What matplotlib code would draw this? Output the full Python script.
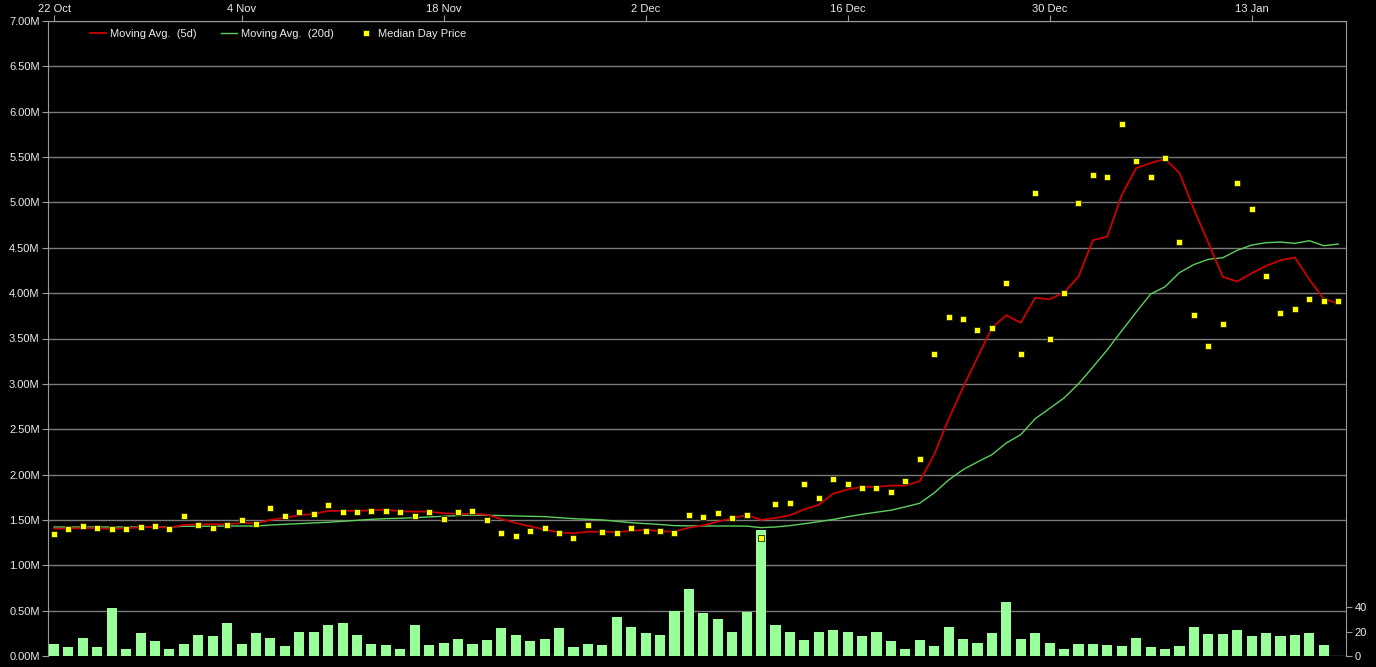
import numpy as np
import pandas as pd
import matplotlib
matplotlib.use("Agg")
import matplotlib.pyplot as plt
from matplotlib.lines import Line2D
from matplotlib.ticker import FuncFormatter, MultipleLocator
import matplotlib.dates as mdates

plt.rcParams['font.family'] = ['Liberation Sans', 'DejaVu Sans']

# ---- data (prices in millions, one value per day) ----
start_date = "2013-10-22"
n_days = 90

median_price = [
    1.345, 1.40, 1.433, 1.411, 1.40, 1.40, 1.422, 1.433, 1.40, 1.544,
    1.444, 1.411, 1.444, 1.50, 1.455, 1.632, 1.544, 1.588, 1.566, 1.665,
    1.588, 1.588, 1.599, 1.599, 1.588, 1.544, 1.588, 1.51, 1.588, 1.60,
    1.50, 1.356, 1.323, 1.378, 1.412, 1.356, 1.301, 1.445, 1.367, 1.356,
    1.412, 1.378, 1.38, 1.356, 1.557, 1.533, 1.577, 1.522, 1.555, 1.30,
    1.677, 1.688, 1.898, 1.743, 1.953, 1.898, 1.85, 1.85, 1.81, 1.931,
    2.174, 3.324, 3.74, 3.718, 3.597, 3.619, 4.114, 3.324, 5.105, 3.497,
    4.007, 4.998, 5.306, 5.284, 5.868, 5.46, 5.284, 5.493, 4.568, 3.764,
    3.412, 3.665, 5.218, 4.932, 4.194, 3.786, 3.83, 3.94, 3.918, 3.918,
]

ma_5d = [
    1.404, 1.404, 1.41, 1.408, 1.40, 1.408, 1.418, 1.422, 1.415, 1.445,
    1.452, 1.452, 1.452, 1.467, 1.463, 1.50, 1.525, 1.551, 1.566, 1.60,
    1.60, 1.60, 1.606, 1.614, 1.595, 1.592, 1.592, 1.573, 1.568, 1.566,
    1.558, 1.51, 1.467, 1.43, 1.393, 1.363, 1.352, 1.37, 1.37, 1.367,
    1.378, 1.393, 1.374, 1.372, 1.415, 1.44, 1.481, 1.518, 1.555, 1.50,
    1.522, 1.551, 1.617, 1.666, 1.79, 1.835, 1.865, 1.865, 1.879, 1.879,
    1.927, 2.22, 2.61, 2.96, 3.29, 3.617, 3.757, 3.673, 3.948, 3.932,
    4.008, 4.18, 4.583, 4.623, 5.082, 5.379, 5.434, 5.48, 5.325, 4.924,
    4.557, 4.18, 4.128, 4.22, 4.30, 4.363, 4.393, 4.15, 3.94, 3.885,
]

ma_20d = [
    1.422, 1.422, 1.422, 1.422, 1.422, 1.422, 1.422, 1.422, 1.422, 1.43,
    1.43, 1.43, 1.433, 1.433, 1.433, 1.444, 1.452, 1.459, 1.467, 1.474,
    1.485, 1.496, 1.507, 1.514, 1.518, 1.525, 1.533, 1.54, 1.548, 1.553,
    1.551, 1.548, 1.544, 1.54, 1.536, 1.525, 1.514, 1.507, 1.50, 1.485,
    1.47, 1.459, 1.45, 1.437, 1.435, 1.433, 1.433, 1.433, 1.432, 1.415,
    1.422, 1.437, 1.458, 1.481, 1.505, 1.535, 1.562, 1.585, 1.607, 1.644,
    1.684, 1.798, 1.94, 2.054, 2.139, 2.219, 2.348, 2.44, 2.616, 2.729,
    2.844, 3.0, 3.185, 3.376, 3.585, 3.79, 3.99, 4.07, 4.226, 4.315,
    4.373, 4.39, 4.472, 4.53, 4.556, 4.563, 4.549, 4.578, 4.523, 4.541,
]

volume = [
    10, 7, 15, 7, 39, 6, 19, 12, 6, 10,
    17, 16, 27, 10, 19, 15, 8, 20, 20, 25,
    27, 17, 10, 9, 6, 25, 9, 11, 14, 10,
    13, 23, 17, 12, 14, 23, 7, 10, 9, 32,
    24, 19, 17, 37, 55, 35, 30, 20, 36, 103,
    25, 20, 13, 20, 21, 20, 16, 20, 12, 6,
    13, 8, 24, 14, 11, 19, 44, 14, 19, 11,
    6, 10, 10, 9, 8, 15, 7, 6, 8, 24,
    18, 18, 21, 16, 19, 16, 17, 19, 9, 0,
]

# first day plus every second Monday
date_ticks = ["2013-10-22", "2013-11-04", "2013-11-18", "2013-12-02",
              "2013-12-16", "2013-12-30", "2014-01-13"]

legend_labels = ["Moving Avg.  (5d)", "Moving Avg.  (20d)", "Median Day Price"]

dates = pd.date_range(start_date, periods=n_days, freq="D")

# ---- figure / axes ----
fig = plt.figure(figsize=(13.76, 6.67), dpi=100, facecolor="black")
rect = [48 / 1376, 11 / 667, 1298 / 1376, 635 / 667]

axis_col = "#9a9a9a"
text_col = "#ececec"

ax_p = fig.add_axes(rect)
ax_p.set_facecolor("black")
ax_v = ax_p.twinx()
ax_l = fig.add_axes(rect, sharex=ax_p, sharey=ax_p, frameon=False)
ax_l.patch.set_visible(False)
ax_l.axis("off")

# price axis with grid (back)
ax_p.set_ylim(0, 7.0)
ax_p.yaxis.set_major_locator(MultipleLocator(0.5))
ax_p.yaxis.set_major_formatter(FuncFormatter(lambda v, p: "%.2fM" % v))
ax_p.grid(True, axis="y", color="#7a7a7a", linewidth=1.0)
ax_p.set_axisbelow(True)
for s in ax_p.spines.values():
    s.set_color(axis_col)
ax_p.spines["bottom"].set_visible(False)

ax_p.xaxis.tick_top()
ax_p.xaxis.set_label_position("top")
x0 = dates[0] - pd.Timedelta(hours=10)
x1 = dates[-1] + pd.Timedelta(hours=13)
ax_p.set_xlim(x0, x1)
ax_p.set_xticks(pd.to_datetime(date_ticks))
ax_p.xaxis.set_major_formatter(FuncFormatter(
    lambda v, p: "%d %s" % (mdates.num2date(v).day, mdates.num2date(v).strftime("%b"))))
ax_p.tick_params(axis="x", colors=axis_col, labelcolor=text_col, labelsize=8,
                 length=4, direction="out", pad=1)
ax_p.tick_params(axis="y", colors=axis_col, labelcolor=text_col, labelsize=8,
                 length=4, direction="out", pad=2)

# volume axis (middle)
ax_v.bar(dates, volume, width=0.7, color="#99ff99", linewidth=0, zorder=2)
ax_v.set_ylim(0, 520)
ax_v.set_yticks([0, 20, 40])
ax_v.tick_params(axis="y", colors=axis_col, labelcolor=text_col, labelsize=8,
                 length=4, direction="out", pad=2)
for s in ax_v.spines.values():
    s.set_visible(False)

# lines and points (front)
ax_l.plot(dates, ma_20d, color="#5ccf5c", linewidth=1.0, zorder=3)
ax_l.plot(dates, ma_5d, color="#cc0000", linewidth=1.3, zorder=4)
ax_l.plot(dates, median_price, linestyle="none", marker="s", markersize=4,
          markerfacecolor="#ffff00", markeredgecolor="#222200",
          markeredgewidth=0.6, zorder=5)
ax_l.set_xlim(x0, x1)
ax_l.set_ylim(0, 7.0)

handles = [
    Line2D([], [], color="#cc0000", linewidth=1.3),
    Line2D([], [], color="#5ccf5c", linewidth=1.0),
    Line2D([], [], linestyle="none", marker="s", markersize=4,
           markerfacecolor="#ffff00", markeredgecolor="#222200", markeredgewidth=0.6),
]
leg = ax_l.legend(handles, legend_labels, loc="upper left", ncol=3, frameon=False,
                  bbox_to_anchor=(0.027, 0.998), fontsize=8, handlelength=1.5,
                  handletextpad=0.3, columnspacing=2.2, borderaxespad=0.2)
for t in leg.get_texts():
    t.set_color(text_col)

fig.savefig("out.png", dpi=100, facecolor="black")
